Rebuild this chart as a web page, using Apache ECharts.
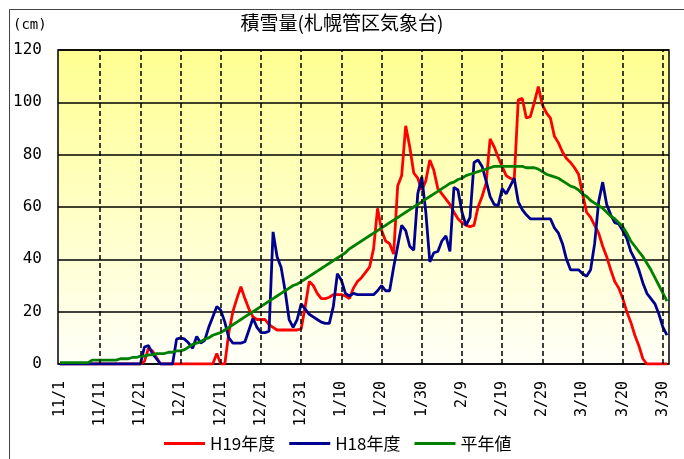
<!DOCTYPE html>
<html><head><meta charset="utf-8">
<script src="https://cdn.jsdelivr.net/npm/echarts@6/dist/echarts.min.js"></script>
<style>html,body{margin:0;padding:0;background:#fff}#c{width:684px;height:459px}</style>
</head><body><div id="c"></div>
<script>
// month / number of days (Nov 1 .. Mar 31, leap year)
const monthDays = [[11,30],[12,31],[1,31],[2,29],[3,31]];
const categories = [];
monthDays.forEach(function(md){ for (let d = 1; d <= md[1]; d++) categories.push(md[0] + '/' + d); });

const seriesNames = ['H19年度', 'H18年度', '平年値'];

const h19 = [
  0,0,0,0,0,0,0,0,0,0,
  0,0,0,0,0,0,0,0,0,0,
  0,1,6,5,2.5,0,0,0,0,0,
  0,0,0,0,0,0,0,0,0,4,
  0,0,12,20,25,29.5,25,21,18,17,
  17,17,15,14,13,13,13,13,13,13,
  13.5,22,31.5,30,27,25,25,25.5,26.5,26.5,
  26.5,26,25,29,31.5,33,35,37,44,59.5,
  51,47,46,42,68,72,91,83,73,71,
  66.5,70,78,74,67,65,63,61,58,55.5,
  54,53,52.5,53,60,64,69,86,83,79,
  75.5,72,71,70.5,101,101.5,94,94.5,100,106,
  99,96,94,87,84.5,81,78.5,77,75,72.5,
  65,58,56,53,50,45,41,36,31.5,29,
  25,20,16,11,7,2,0,0,0,0,
  0,0
];

const h18 = [
  0,0,0,0,0,0,0,0,0,0,
  0,0,0,0,0,0,0,0,0,0,
  0,6.5,7,4,2,0,0,0,0,9.5,
  10,9.5,8,6,10.5,8,9,14,18,22,
  20.5,16,10,8,8,8,8.5,13,17.5,14,
  12,12,12.5,50.5,41,37,28,17,14,17,
  23,21,19,18,17,16,15.5,15.5,22,34.5,
  32,27,26,27,26.5,26.5,26.5,26.5,26.5,28,
  30,28,28,37,45,53,51,45,43.5,65,
  71.5,58,39,42.5,43,47,49,43,67.5,66.5,
  58,53,56,77,78,75.5,70,64,61,60.5,
  67,65,68,71,62,59,57,55.5,55.5,55.5,
  55.5,55.5,55.5,52,50,46,40,36,36,36,
  34.5,33.5,36,46,62,69.5,61,57,54,53.5,
  51,48,43,40,36,31,27,25,23,19,
  14,11
];

const normal = [
  0.5,0.5,0.5,0.5,0.5,0.5,0.5,0.5,1.5,1.5,
  1.5,1.5,1.5,1.5,1.5,2,2,2,2.5,2.5,
  3,3,3.5,3.5,4,4,4,4.5,4.5,5,
  5,5.5,6.5,7.5,8,8.5,9.5,10,11,11.5,
  12,13,14,15,16,17,18,19,20,21,
  22,23,24,25,26,27,28,29,30,30.5,
  31.5,32.5,33.5,34.5,35.5,36.5,37.5,38.5,39.5,40.5,
  41.5,42.5,44,45,46,47,48,49,50,51,
  52,53,54,55,56,57,58,59,60,61,
  62,63,64,65,66,67,68,69,69.5,70.5,
  71,72,72.5,73,73.5,74,74.5,75,75.5,75.5,
  75.5,75.5,75.5,75.5,75.5,75.5,75,75,75,74.5,
  73.5,72.5,72,71.5,71,70,69,68,67.5,66.5,
  65,64,62.5,61.5,60.5,59.5,58,56.5,55.5,54,
  52.5,50,47,45,43,41,38.5,36,33,30,
  27,24
];

const yMin = 0, yMax = 120, yStep = 20;
const labelEvery = 10;

const dashMarks = [];
for (let k = labelEvery; k < categories.length; k += labelEvery) dashMarks.push({ xAxis: categories[k] });

const chart = echarts.init(document.getElementById('c'), null, { renderer: 'canvas' });
const numFont = 'DejaVu Sans Mono';
const jpFont = 'Noto Sans CJK JP';

chart.setOption({
  animation: false,
  backgroundColor: '#ffffff',
  title: {
    text: '積雪量(札幌管区気象台)', left: 'center', top: 13, padding: 0,
    textStyle: { fontFamily: jpFont, fontSize: 19, fontWeight: 'normal', color: '#000' }
  },
  legend: {
    data: seriesNames, left: 164, top: 435, padding: 0,
    icon: 'rect', itemWidth: 41, itemHeight: 3, itemGap: 14,
    textStyle: { fontFamily: jpFont, fontSize: 17, color: '#000' }
  },
  grid: {
    left: 58, right: 15, top: 50, bottom: 95, show: true,
    backgroundColor: { type: 'linear', x: 0, y: 0, x2: 0, y2: 1,
      colorStops: [{ offset: 0, color: '#FFFF90' }, { offset: 1, color: '#FFFFF8' }] },
    borderColor: '#000', borderWidth: 1.5
  },
  xAxis: {
    type: 'category', data: categories, boundaryGap: true,
    axisLine: { show: false }, axisTick: { show: false }, splitLine: { show: false },
    axisLabel: { interval: labelEvery - 1, rotate: 90, margin: 17, fontFamily: numFont, fontSize: 15, color: '#000' }
  },
  yAxis: {
    type: 'value', min: yMin, max: yMax, interval: yStep,
    axisLine: { show: false }, axisTick: { show: false },
    splitLine: { show: true, lineStyle: { color: '#000', width: 1.5 } },
    axisLabel: { margin: 16, fontFamily: numFont, fontSize: 16, color: '#000' }
  },
  graphic: [
    { type: 'polyline', shape: { points: [[9.5, 459], [9.5, 9.5], [684, 9.5]] },
      style: { stroke: '#444', lineWidth: 1, fill: null }, silent: true },
    { type: 'text', x: 13, y: 25, silent: true,
      style: { text: '(cm)', fontFamily: numFont, fontSize: 14, fill: '#000', verticalAlign: 'middle' } }
  ],
  series: [
    { type: 'line', name: 'grid', data: categories.map(function(){ return null; }), silent: true,
      symbol: 'none', lineStyle: { width: 0 },
      markLine: { silent: true, symbol: ['none', 'none'], label: { show: false },
        lineStyle: { color: '#000', width: 1.5, type: [5, 3] }, data: dashMarks } },
    { type: 'line', name: seriesNames[0], data: h19, symbol: 'none', color: '#FF0000',
      lineStyle: { color: '#FF0000', width: 2.8 }, itemStyle: { color: '#FF0000' } },
    { type: 'line', name: seriesNames[1], data: h18, symbol: 'none', color: '#000090',
      lineStyle: { color: '#000090', width: 2.8 }, itemStyle: { color: '#000090' } },
    { type: 'line', name: seriesNames[2], data: normal, symbol: 'none', color: '#008000',
      lineStyle: { color: '#008000', width: 2.8 }, itemStyle: { color: '#008000' } }
  ]
});
</script>
</body></html>
